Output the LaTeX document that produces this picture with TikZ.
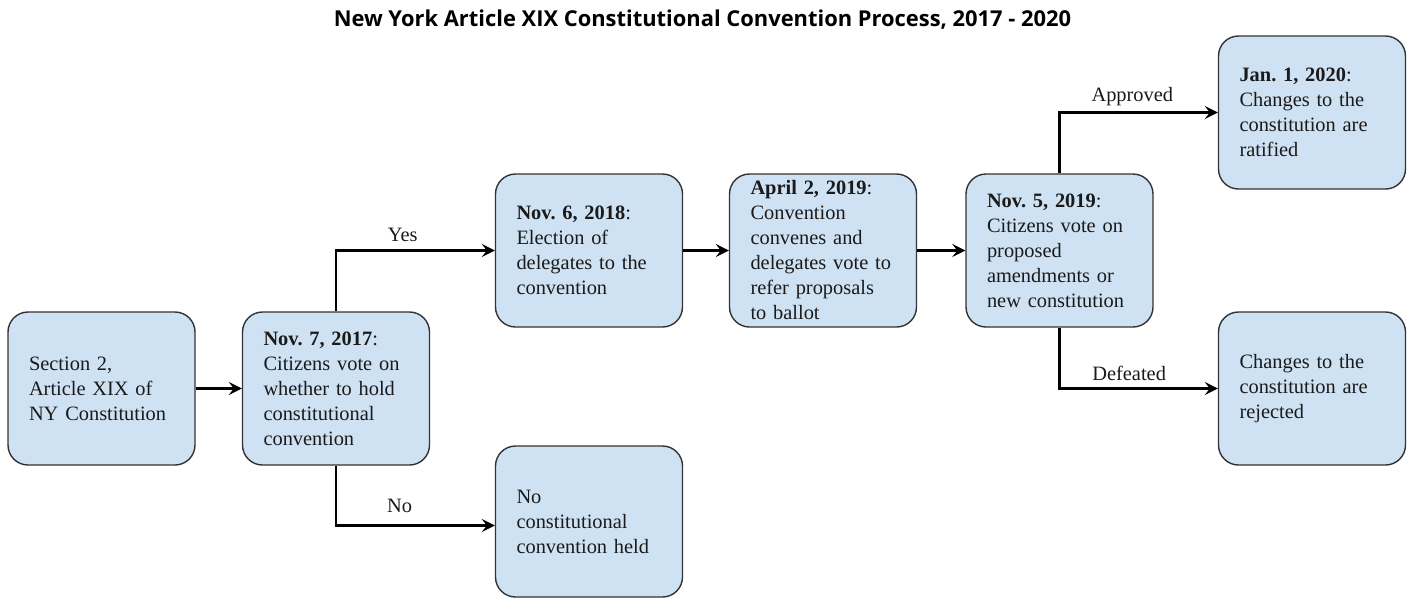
\documentclass[tikz,border=0pt]{standalone}
\usepackage{fontspec}
\setmainfont{Liberation Serif}
\newfontfamily\titlefont{Open Sans}
\usetikzlibrary{arrows.meta}
\definecolor{boxfill}{HTML}{CFE2F3}
\definecolor{boxline}{HTML}{333333}
\definecolor{txt}{HTML}{1A1A1A}
\begin{document}
\begin{tikzpicture}[x=1pt,y=-1pt,
  stepbox/.style={draw=boxline, fill=boxfill, line width=1.4pt, rounded corners=20pt,
    minimum width=187pt, minimum height=153pt, text width=145pt,
    inner xsep=0pt, inner ysep=0pt, align=left,
    font=\fontsize{20.4}{25}\selectfont, text=txt},
  conn/.style={line width=2.4pt, draw=black, -{Stealth[length=13pt,width=13pt,inset=5pt]}},
  lbl/.style={font=\fontsize{20.4}{25}\selectfont, text=txt, anchor=base}]
\useasboundingbox (0,0) rectangle (1408,598);
\node[font=\titlefont\bfseries\fontsize{21.9}{26}\selectfont, anchor=base] (title) at (702.5,26)
  {New York Article XIX Constitutional Convention Process, 2017 - 2020};
\node[stepbox] (A) at (101.5,388.5) {Section~2,\\ Article~XIX~of\\ NY~Constitution};
\node[stepbox] (B) at (336,388.5) {\textbf{Nov.~7,~2017}:\\ Citizens~vote~on\\ whether~to~hold\\ constitutional\\ convention};
\node[stepbox] (C) at (589,250.5) {\textbf{Nov.~6,~2018}:\\ Election~of\\ delegates~to~the\\ convention};
\node[stepbox] (D) at (823,250.5) {\textbf{April~2,~2019}:\\ Convention\\ convenes~and\\ delegates~vote~to\\ refer~proposals\\ to~ballot};
\node[stepbox] (E) at (1059.5,250.5) {\textbf{Nov.~5,~2019}:\\ Citizens~vote~on\\ proposed\\ amendments~or\\ new~constitution};
\node[stepbox] (F) at (1312,112.5) {\textbf{Jan.~1,~2020}:\\ Changes~to~the\\ constitution~are\\ ratified};
\node[stepbox] (G) at (1312,388.5) {Changes~to~the\\ constitution~are\\ rejected};
\node[stepbox, minimum height=151pt] (H) at (589,521.5) {No\\ constitutional\\ convention~held};
\draw[conn] (A) -- (B);
\draw[conn] (C) -- (D);
\draw[conn] (D) -- (E);
\draw[conn] (B.north) |- node[lbl, pos=0.71, yshift=9pt] (yes) {Yes} (C.west);
\draw[conn] (B.south) |- node[lbl, pos=0.70, yshift=13pt] (no) {No} ([yshift=-4pt]H.west);
\draw[conn] (E.north) |- node[lbl, pos=0.73, yshift=11pt] (appr) {Approved} (F.west);
\draw[conn] (E.south) |- node[lbl, pos=0.72, yshift=8pt] (def) {Defeated} (G.west);
\end{tikzpicture}
\end{document}
